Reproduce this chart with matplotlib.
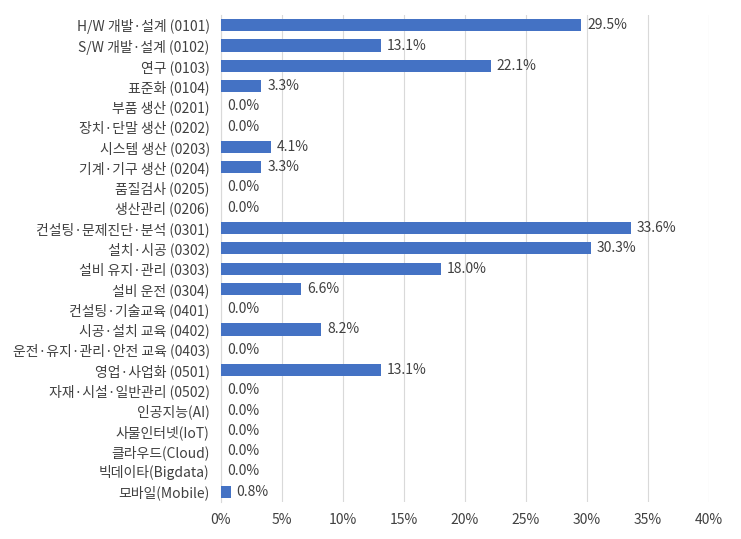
import matplotlib
matplotlib.use("Agg")
import matplotlib.pyplot as plt
from matplotlib.ticker import FuncFormatter
import numpy as np

plt.rcParams["font.family"] = ["Noto Sans CJK KR", "DejaVu Sans"]

categories = [
    "H/W 개발·설계 (0101)",
    "S/W 개발·설계 (0102)",
    "연구 (0103)",
    "표준화 (0104)",
    "부품 생산 (0201)",
    "장치·단말 생산 (0202)",
    "시스템 생산 (0203)",
    "기계·기구 생산 (0204)",
    "품질검사 (0205)",
    "생산관리 (0206)",
    "컨설팅·문제진단·분석 (0301)",
    "설치·시공 (0302)",
    "설비 유지·관리 (0303)",
    "설비 운전 (0304)",
    "컨설팅·기술교육 (0401)",
    "시공·설치 교육 (0402)",
    "운전·유지·관리·안전 교육 (0403)",
    "영업·사업화 (0501)",
    "자재·시설·일반관리 (0502)",
    "인공지능(AI)",
    "사물인터넷(IoT)",
    "클라우드(Cloud)",
    "빅데이타(Bigdata)",
    "모바일(Mobile)",
]
values = [29.5, 13.1, 22.1, 3.3, 0.0, 0.0, 4.1, 3.3, 0.0, 0.0,
          33.6, 30.3, 18.0, 6.6, 0.0, 8.2, 0.0, 13.1, 0.0,
          0.0, 0.0, 0.0, 0.0, 0.8]
x_ticks = [0, 5, 10, 15, 20, 25, 30, 35, 40]

BAR = "#4472C4"
TEXT = "#404040"

fig = plt.figure(figsize=(7.41, 5.39), dpi=100)
ax = fig.add_axes([0.298, 0.069, 0.659, 0.903])

y = np.arange(len(categories))
ax.barh(y, values, height=0.6, color=BAR, zorder=3)
for yi, v in zip(y, values):
    ax.text(v + 0.5, yi, f"{v:.1f}%", va="center", ha="left",
            fontsize=10, color=TEXT, zorder=4)

ax.set_yticks(y)
ax.set_yticklabels(categories, fontsize=10, color=TEXT)
ax.set_ylim(len(categories) - 0.5, -0.5)
ax.set_xlim(0, 40)
ax.set_xticks(x_ticks)
ax.xaxis.set_major_formatter(FuncFormatter(lambda v, p: f"{v:.0f}%"))
ax.tick_params(axis="x", labelsize=10, colors=TEXT, length=0, pad=8)
ax.tick_params(axis="y", length=0, pad=8)
ax.grid(axis="x", color="#d9d9d9", linewidth=0.8, zorder=0)

for s in ["top", "right", "bottom"]:
    ax.spines[s].set_visible(False)
ax.spines["left"].set_color("#d9d9d9")
ax.spines["left"].set_linewidth(0.8)

fig.savefig("out.png", dpi=100)
